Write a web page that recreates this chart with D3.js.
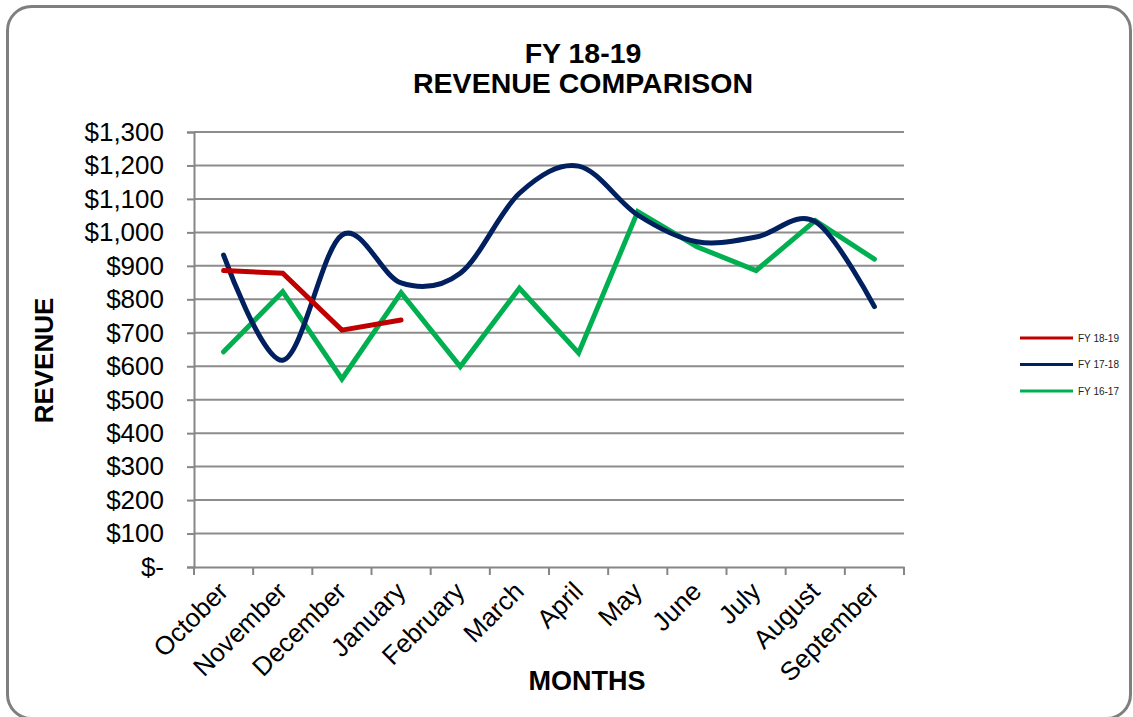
<!DOCTYPE html>
<html><head><meta charset="utf-8">
<script src="https://cdn.jsdelivr.net/npm/d3@7"></script>
<style>body{margin:0;background:#fff;}svg{display:block;font-family:"Liberation Sans",Arial,sans-serif;}</style>
</head><body><svg id="c" width="1133" height="717"></svg>
<script>
const months = ["October","November","December","January","February","March","April","May","June","July","August","September"];
const fy1819 = [886, 878, 708, 738];
const fy1718 = [932, 618, 992, 849, 878, 1117, 1198, 1052, 972, 986, 1032, 778];
const fy1617 = [643, 823, 562, 820, 599, 833, 640, 1062, 957, 886, 1035, 920];
const yTicks = [0,100,200,300,400,500,600,700,800,900,1000,1100,1200,1300];
const seriesNames = ["FY 18-19","FY 17-18","FY 16-17"];
const seriesColors = ["#C00000","#002060","#00B050"];

const svg = d3.select("#c");
svg.append("rect").attr("x",7.5).attr("y",6.5).attr("width",1123).attr("height",712)
  .attr("rx",24).attr("fill","#fff").attr("stroke","#7f7f7f").attr("stroke-width",3);

const L=194, R=904, T=132, B=567;
const x = d3.scaleBand().domain(months).range([L,R]);
const y = d3.scaleLinear().domain([0,1300]).range([B,T]);

// gridlines
svg.append("g").selectAll("line").data(yTicks.slice(1)).join("line")
  .attr("x1",L).attr("x2",R).attr("y1",d=>y(d)).attr("y2",d=>y(d))
  .attr("stroke","#8c8c8c").attr("stroke-width",2);

const fmt = d => d===0 ? "$-" : "$" + d3.format(",")(d);
const yAxis = svg.append("g").attr("transform",`translate(${L},0)`)
  .call(d3.axisLeft(y).tickValues(yTicks).tickFormat(fmt).tickSize(7).tickPadding(23));
yAxis.select(".domain").attr("stroke","#868686").attr("stroke-width",2);
yAxis.selectAll(".tick line").attr("stroke","#868686").attr("stroke-width",2);
yAxis.selectAll(".tick text").attr("font-size",26).attr("fill","#000").attr("font-family","Liberation Sans, Arial, sans-serif");

const xAxis = svg.append("g").attr("transform",`translate(0,${B})`)
  .call(d3.axisBottom(x).tickSize(0).tickFormat(""));
xAxis.select(".domain").attr("stroke","#868686").attr("stroke-width",2);
// ticks at band boundaries
const bounds = months.map(m=>x(m)).concat([R]);
svg.append("g").selectAll("line").data(bounds).join("line")
  .attr("x1",d=>d).attr("x2",d=>d).attr("y1",B).attr("y2",B+8)
  .attr("stroke","#868686").attr("stroke-width",2);
svg.append("g").selectAll("text").data(months).join("text")
  .attr("transform",d=>`translate(${x(d)+x.bandwidth()/2+6},${B+26}) rotate(-45)`)
  .attr("text-anchor","end").attr("font-size",26).attr("fill","#000").text(d=>d);

const cx = d => x(d)+x.bandwidth()/2;
const line = d3.line().x((d,i)=>cx(months[i])).y(d=>y(d));
svg.append("path").datum(fy1617).attr("d",line).attr("fill","none")
  .attr("stroke",seriesColors[2]).attr("stroke-width",5).attr("stroke-linejoin","miter").attr("stroke-linecap","round");
svg.append("path").datum(fy1718).attr("d",line.curve(d3.curveCatmullRom.alpha(0))).attr("fill","none")
  .attr("stroke",seriesColors[1]).attr("stroke-width",5).attr("stroke-linecap","round");
svg.append("path").datum(fy1819).attr("d",line.curve(d3.curveLinear)).attr("fill","none")
  .attr("stroke",seriesColors[0]).attr("stroke-width",5).attr("stroke-linecap","round");

// titles
svg.append("text").attr("x",583).attr("y",63).attr("text-anchor","middle").attr("font-size",28.5).attr("font-weight","bold").text("FY 18-19");
svg.append("text").attr("x",583).attr("y",93).attr("text-anchor","middle").attr("font-size",28.5).attr("font-weight","bold").text("REVENUE COMPARISON");
svg.append("text").attr("x",587).attr("y",690).attr("text-anchor","middle").attr("font-size",27).attr("font-weight","bold").text("MONTHS");
svg.append("text").attr("transform","translate(53,360.5) rotate(-90)").attr("text-anchor","middle").attr("font-size",26).attr("font-weight","bold").text("REVENUE");

// legend
const lg = svg.append("g").selectAll("g").data(seriesNames).join("g")
  .attr("transform",(d,i)=>`translate(1020,${338+i*26.5})`);
lg.append("line").attr("x1",0).attr("x2",53).attr("stroke",(d,i)=>seriesColors[i]).attr("stroke-width",3);
lg.append("text").attr("x",58).attr("y",3.5).attr("font-size",10).attr("fill","#222").text(d=>d);
</script></body></html>
